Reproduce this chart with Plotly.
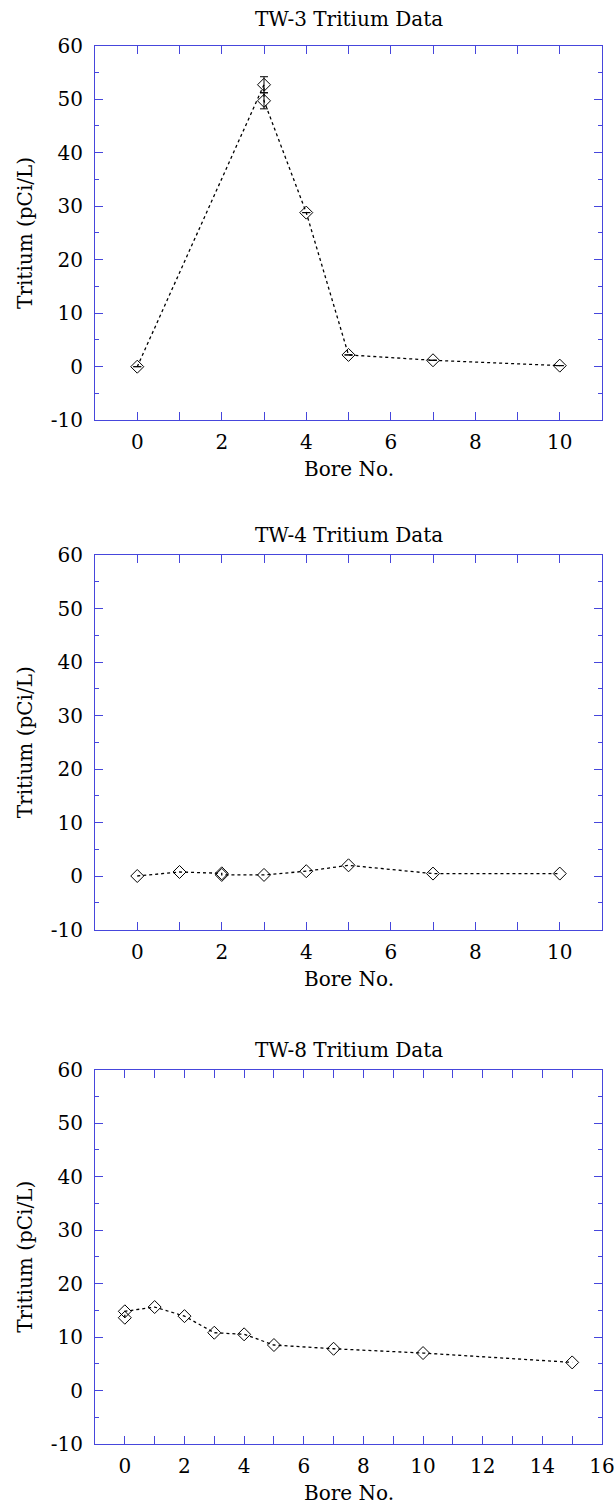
import plotly.graph_objects as go

# ---- data ----
tw3_x = [0, 3, 3, 4, 5, 7, 10]
tw3_y = [0.0, 52.7, 49.7, 28.8, 2.2, 1.2, 0.2]
tw3_err = [0, 1.5, 1.5, 0, 0, 0, 0]

tw4_x = [0, 1, 2, 2, 3, 4, 5, 7, 10]
tw4_y = [0.0, 0.75, 0.5, 0.2, 0.2, 0.9, 2.0, 0.45, 0.45]

tw8_x = [0, 0, 1, 2, 3, 4, 5, 7, 10, 15]
tw8_y = [13.6, 14.8, 15.6, 13.9, 10.8, 10.5, 8.5, 7.8, 7.0, 5.25]

titles = ["TW-3 Tritium Data", "TW-4 Tritium Data", "TW-8 Tritium Data"]
x_title = "Bore No."
y_title = "Tritium (pCi/L)"

y_tickvals = [-10, 0, 10, 20, 30, 40, 50, 60]
y_ticktext = ["-10", "0", "10", "20", "30", "40", "50", "60"]
x_ranges = [[-1, 11], [-1, 11], [-1, 16]]

# ---- layout constants ----
W, H = 614, 1508
FONT = "DejaVu Serif"
AX = "#4646dc"
x_dom = [95 / W, 602 / W]
tops = [45.7, 555.0, 1069.5]
title_gap = [27, 20, 20]
plot_h = 374.5

fig = go.Figure()
series = [(tw3_x, tw3_y, tw3_err), (tw4_x, tw4_y, None), (tw8_x, tw8_y, None)]
for i, (xs, ys, err) in enumerate(series):
    n = "" if i == 0 else str(i + 1)
    tr = dict(
        x=xs, y=ys, mode="lines+markers",
        xaxis="x" + n, yaxis="y" + n,
        line=dict(color="black", width=1.3, dash="3px,3px"),
        marker=dict(symbol="diamond-open", size=10, color="black",
                    line=dict(color="black", width=1)),
        showlegend=False,
        cliponaxis=False,
    )
    if err is not None:
        tr["error_y"] = dict(type="data", array=err, visible=True,
                             color="black", thickness=1, width=4)
    fig.add_trace(go.Scatter(**tr))

    top = tops[i]
    bot = top + plot_h
    y_dom = [1 - bot / H, 1 - top / H]
    xr = x_ranges[i]
    fig.layout["xaxis" + n] = dict(
        domain=x_dom, range=xr, anchor="y" + n,
        showline=True, linecolor=AX, linewidth=1, mirror="ticks",
        ticks="inside", ticklen=8, tickcolor=AX, tickwidth=1,
        dtick=2, tick0=0, ticklabelstandoff=4, ticklabeloverflow="allow",
        minor=dict(dtick=1, ticks="inside", ticklen=8, tickcolor=AX, tickwidth=1),
        showgrid=False, zeroline=False,
        tickfont=dict(family=FONT, size=20, color="black"),
        automargin=False,
    )
    fig.layout["yaxis" + n] = dict(
        domain=y_dom, range=[-10, 60], anchor="x" + n,
        showline=True, linecolor=AX, linewidth=1, mirror="ticks",
        ticks="inside", ticklen=8, tickcolor=AX, tickwidth=1,
        tickvals=y_tickvals, ticktext=y_ticktext, ticklabelstandoff=7,
        ticklabeloverflow="allow",
        minor=dict(dtick=5, tick0=-10, ticks="inside", ticklen=4, tickcolor=AX, tickwidth=1),
        showgrid=False, zeroline=False,
        tickfont=dict(family=FONT, size=20, color="black"),
        automargin=False,
    )
    cx = (x_dom[0] + x_dom[1]) / 2
    fig.add_annotation(text=titles[i], x=cx, y=1 - (top - title_gap[i]) / H,
                       xref="paper", yref="paper", showarrow=False,
                       font=dict(family=FONT, size=20, color="black"),
                       xanchor="center", yanchor="middle")
    fig.add_annotation(text=x_title, x=cx, y=1 - (bot + 49) / H,
                       xref="paper", yref="paper", showarrow=False,
                       font=dict(family=FONT, size=20, color="black"),
                       xanchor="center", yanchor="middle")
    fig.add_annotation(text=y_title, x=25 / W, y=1 - (top + plot_h / 2) / H,
                       xref="paper", yref="paper", showarrow=False, textangle=-90,
                       font=dict(family=FONT, size=20, color="black"),
                       xanchor="center", yanchor="middle")

fig.update_layout(
    width=W, height=H,
    margin=dict(l=0, r=0, t=0, b=0),
    paper_bgcolor="white", plot_bgcolor="white",
    font=dict(family=FONT, color="black"),
)

fig.write_html("out.html", config={"displayModeBar": False},
               post_script="document.body.style.margin='0';document.body.style.padding='0';")
